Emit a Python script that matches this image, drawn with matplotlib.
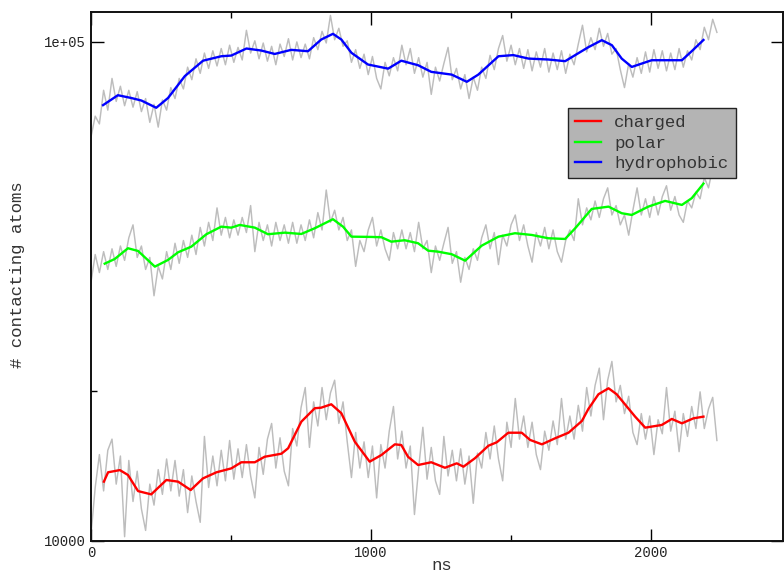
import numpy as np
import matplotlib
matplotlib.use("Agg")
import matplotlib.pyplot as plt
from matplotlib.ticker import FixedLocator, FixedFormatter

# ---------------- data (values in thousands of contacting atoms) ----------------
GRAY_STEP_NS = 15

raw_hydrophobic_k = [
    64.5, 71.0, 68.5, 80.0, 73.0, 84.5, 76.0, 81.5, 74.5, 80.0,
    74.0, 79.5, 72.5, 77.0, 69.0, 75.0, 67.5, 76.5, 73.0, 81.0,
    77.0, 84.5, 80.5, 89.0, 84.0, 92.5, 86.5, 95.0, 88.5, 96.0,
    89.5, 97.0, 90.0, 98.5, 91.0, 97.5, 92.0, 105.5, 95.0, 100.5,
    92.5, 99.5, 91.5, 98.0, 90.0, 99.0, 93.5, 101.5, 92.0, 100.0,
    93.0, 99.0, 92.5, 102.0, 96.5, 105.0, 99.5, 113.0, 101.0, 106.5,
    98.0, 100.5, 91.0, 96.5, 88.5, 94.5, 86.0, 93.5, 84.5, 80.5,
    91.0, 85.5, 93.0, 87.5, 98.5, 90.0, 97.0, 86.5, 93.0, 85.0,
    91.0, 78.5, 89.0, 83.5, 90.5, 97.5, 84.0, 88.5, 80.5, 86.0,
    77.0, 85.0, 80.0, 89.0, 84.5, 94.0, 88.0, 97.0, 103.0, 91.5,
    98.5, 90.0, 97.0, 88.5, 96.5, 87.5, 95.5, 89.0, 97.0, 87.0,
    95.0, 88.0, 96.0, 86.5, 94.5, 90.0, 99.0, 108.0, 95.5, 102.0,
    96.5, 106.5, 98.0, 104.0, 94.5, 97.0, 88.0, 81.0, 90.5, 85.0,
    93.0, 86.5, 95.5, 87.0, 96.5, 88.5, 96.0, 87.5, 95.0, 88.0,
    97.0, 89.0, 96.0, 92.0, 101.0, 96.5, 107.0, 101.0, 111.0, 104.5,
]
raw_polar_k = [
    33.0, 37.5, 34.5, 38.0, 35.0, 38.5, 35.5, 39.0, 36.5, 40.5,
    43.0, 37.0, 39.0, 35.0, 37.0, 31.0, 35.5, 33.5, 38.0, 35.0,
    39.5, 36.0, 40.0, 37.0, 41.0, 37.5, 42.5, 39.0, 43.5, 40.0,
    46.5, 41.0, 44.5, 40.5, 44.0, 41.0, 44.5, 41.5, 47.0, 38.0,
    43.5, 40.0, 43.0, 39.0, 43.5, 40.0, 43.0, 39.5, 43.5, 39.5,
    43.0, 40.0, 44.0, 40.5, 45.5, 42.0, 50.5, 43.5, 46.0, 42.0,
    44.5, 40.0, 42.0, 35.5, 40.0, 38.0, 42.0, 44.5, 39.0, 42.0,
    38.5, 36.5, 41.5, 38.5, 42.0, 38.5, 41.5, 38.0, 43.5, 38.5,
    40.0, 34.5, 39.0, 36.5, 39.5, 42.5, 36.0, 38.0, 33.0, 37.0,
    35.0, 38.5, 36.5, 40.5, 43.0, 38.5, 41.5, 35.8, 41.0, 39.0,
    43.0, 45.0, 40.0, 43.0, 39.0, 36.2, 41.5, 39.0, 42.5, 38.5,
    42.0, 38.0, 36.2, 40.0, 42.0, 40.0, 48.5, 43.0, 46.5, 44.0,
    48.0, 44.5, 48.5, 51.0, 45.0, 47.0, 43.0, 45.0, 41.0, 46.0,
    51.0, 45.0, 48.5, 44.5, 49.0, 45.0, 49.0, 51.5, 46.0, 49.0,
    45.0, 43.5, 48.0, 46.5, 50.0, 48.5, 53.5, 51.0, 56.0, 53.5,
]
raw_charged_k = [
    10.3, 12.8, 14.9, 12.6, 15.2, 16.0, 13.0, 14.8, 10.2, 14.5,
    12.0, 13.8, 11.6, 10.5, 13.0, 11.8, 13.9, 12.4, 14.6, 12.6,
    14.5, 12.3, 13.9, 11.4, 13.5, 12.0, 10.9, 16.2, 12.8, 14.8,
    12.9, 15.2, 13.2, 15.9, 13.3, 15.3, 13.4, 15.6, 13.5, 12.2,
    15.4, 13.6, 16.0, 17.2, 14.0, 16.1, 13.8, 12.9, 16.8, 15.5,
    18.5, 20.3, 15.4, 19.0, 17.0, 20.3, 17.5, 19.8, 21.0, 17.2,
    19.0, 15.8, 13.4, 16.5, 14.0, 15.8, 13.4, 15.5, 12.2, 15.6,
    14.0, 16.6, 18.6, 14.6, 16.6, 14.0, 15.5, 11.3, 14.0, 16.9,
    13.3, 15.4, 13.2, 12.4, 16.2, 13.5, 15.2, 13.2, 15.3, 13.0,
    14.8, 11.9, 15.0, 14.0, 16.5, 14.6, 17.0, 14.6, 13.2, 17.3,
    15.4, 19.3, 16.0, 17.8, 15.4, 17.3, 14.9, 13.9, 16.6, 15.2,
    17.4, 15.6, 19.3, 16.0, 17.8, 16.0, 18.7, 16.6, 20.3, 17.8,
    20.5, 22.2, 17.5, 21.0, 22.9, 19.0, 20.5, 18.0, 19.5, 16.5,
    15.6, 18.0, 16.0, 17.8, 14.9, 17.5, 16.4, 20.3, 16.6, 18.2,
    15.1, 18.0, 16.2, 18.6, 16.8, 19.9, 16.8, 18.4, 19.4, 15.9,
]

hydrophobic_t = [43, 96, 144, 180, 233, 275, 335, 400, 465, 501,
                 555, 608, 656, 715, 775, 822, 864, 894, 930, 989,
                 1061, 1108, 1168, 1215, 1288, 1342, 1383, 1455, 1508, 1562,
                 1633, 1693, 1729, 1776, 1824, 1860, 1895, 1931, 2002, 2062,
                 2110, 2145, 2187]
hydrophobic_k = [74.7, 78.2, 77.2, 76.3, 73.8, 77.2, 85.4, 91.7, 93.6, 93.9,
                 97.0, 96.1, 94.6, 96.4, 95.8, 101.1, 103.8, 101.1, 95.1, 90.1,
                 88.4, 91.7, 89.8, 87.1, 86.0, 83.2, 86.0, 93.6, 94.1, 92.6,
                 92.2, 91.5, 94.1, 97.6, 100.8, 98.5, 92.6, 89.1, 91.9, 91.9,
                 91.9, 95.8, 100.9]

polar_t = [49, 85, 132, 168, 228, 275, 311, 358, 412, 465,
           501, 531, 585, 632, 692, 751, 799, 864, 900, 930,
           1001, 1037, 1072, 1120, 1168, 1204, 1239, 1288, 1336, 1395,
           1455, 1514, 1574, 1633, 1693, 1729, 1788, 1848, 1895, 1931,
           1990, 2050, 2110, 2145, 2187]
polar_k = [35.95, 36.74, 38.60, 38.12, 35.46, 36.57, 37.89, 38.88, 41.18, 42.64,
           42.45, 42.98, 42.45, 41.18, 41.48, 41.23, 42.33, 44.13, 42.64, 40.72,
           40.67, 40.61, 39.79, 40.05, 39.50, 38.17, 38.00, 37.55, 36.45, 39.06,
           40.72, 41.37, 41.04, 40.42, 40.29, 42.33, 46.28, 46.77, 45.37, 45.01,
           46.77, 48.02, 47.14, 48.62, 52.01]

charged_t = [46, 61, 103, 132, 168, 215, 269, 311, 356, 400,
             448, 501, 537, 585, 620, 680, 704, 751, 799, 822,
             858, 894, 942, 995, 1037, 1085, 1108, 1132, 1168, 1215,
             1264, 1306, 1330, 1371, 1419, 1449, 1490, 1538, 1568, 1610,
             1657, 1705, 1753, 1776, 1812, 1848, 1877, 1943, 1979, 2038,
             2074, 2110, 2151, 2187]
charged_k = [13.15, 13.73, 13.87, 13.56, 12.59, 12.40, 13.25, 13.15, 12.65, 13.35,
             13.73, 13.98, 14.38, 14.38, 14.75, 14.96, 15.34, 17.34, 18.45, 18.50,
             18.79, 18.03, 15.81, 14.42, 14.87, 15.62, 15.57, 14.75, 14.20, 14.38,
             14.02, 14.31, 14.09, 14.65, 15.52, 15.77, 16.48, 16.48, 15.94, 15.62,
             16.06, 16.48, 17.40, 18.39, 19.68, 20.23, 19.68, 17.75, 16.87, 17.08,
             17.56, 17.21, 17.61, 17.75]

series_labels = ["charged", "polar", "hydrophobic"]
series_colors = ["#ff0000", "#00ff00", "#0000ff"]
y_tick_values = [1e4, 1e5]
y_tick_labels = ["10000", "1e+05"]
x_tick_values = [0, 1000, 2000]
x_tick_labels = ["0", "1000", "2000"]

# ---------------- figure ----------------
MONO = "Liberation Mono"
fig = plt.figure(figsize=(7.84, 5.72), dpi=100)
ax = fig.add_axes([91 / 784, 31 / 572, 692 / 784, 529 / 572])

K = 1000.0
for raw in (raw_hydrophobic_k, raw_polar_k, raw_charged_k):
    t = np.arange(len(raw)) * GRAY_STEP_NS
    ax.plot(t, np.array(raw) * K, color="#bdbdbd", lw=1.05, zorder=1)

smooth = [(charged_t, charged_k), (polar_t, polar_k), (hydrophobic_t, hydrophobic_k)]
for (t, v), lab, col in zip(smooth, series_labels, series_colors):
    ax.plot(t, np.array(v) * K, color=col, lw=1.7, label=lab, zorder=3,
            solid_joinstyle="round")

ax.set_yscale("log")
ax.set_xlim(0, 2471)
ax.set_ylim(1e4, 114800)

ax.yaxis.set_major_locator(FixedLocator(y_tick_values))
ax.yaxis.set_major_formatter(FixedFormatter(y_tick_labels))
ax.yaxis.set_minor_locator(FixedLocator([2e4]))
ax.xaxis.set_major_locator(FixedLocator(x_tick_values))
ax.xaxis.set_major_formatter(FixedFormatter(x_tick_labels))
ax.xaxis.set_minor_locator(FixedLocator([500, 1500]))

ax.tick_params(which="major", direction="in", length=9, width=1.0,
               top=True, right=True, labelsize=10)
ax.tick_params(which="minor", direction="in", length=4.5, width=1.0,
               top=True, right=False, left=True)
ax.tick_params(axis="y", pad=4)
ax.tick_params(axis="x", pad=3.5)
for lbl in ax.get_xticklabels() + ax.get_yticklabels():
    lbl.set_fontfamily(MONO)
    lbl.set_color("#222222")

for s in ax.spines.values():
    s.set_linewidth(1.4)
    s.set_color("#111111")

leg = ax.legend(loc="upper left", bbox_to_anchor=(568 / 784, 1 - 108 / 572),
                bbox_transform=fig.transFigure, borderaxespad=0,
                prop={"family": MONO, "size": 12.5}, frameon=True,
                fancybox=False, framealpha=1, facecolor="#b4b4b4",
                edgecolor="#222222", handlelength=1.5, handletextpad=0.75,
                labelspacing=0.3, borderpad=0.42)
leg.get_frame().set_linewidth(1.0)
for txt in leg.get_texts():
    txt.set_color("#333333")

fig.text(18 / 784, 1 - 275 / 572, "# contacting atoms", rotation=90,
         ha="center", va="center", family=MONO, fontsize=12.5, color="#333333")
fig.text(442 / 784, 1 - 570.5 / 572, "ns", ha="center", va="baseline",
         family=MONO, fontsize=12.5, color="#333333")

fig.savefig("out.png", dpi=100)
